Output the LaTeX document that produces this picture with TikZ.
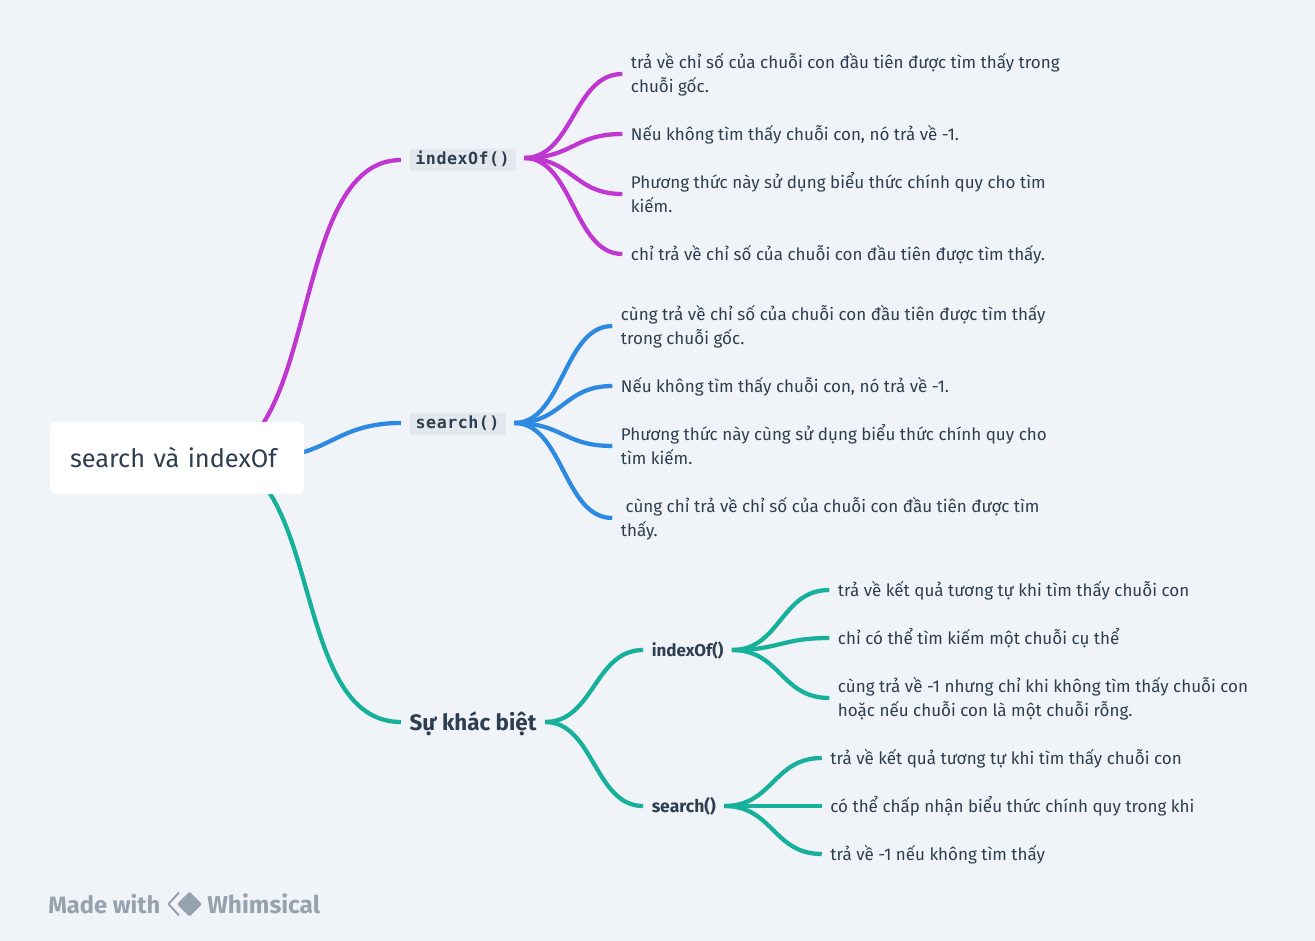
\documentclass[tikz,border=0pt]{standalone}
\usepackage{fontspec}
\setmainfont{Fira Sans}
\newfontfamily\chipfont[LetterSpace=3]{DejaVu Sans Mono Bold}
\usetikzlibrary{positioning,backgrounds}
\definecolor{pagebg}{HTML}{F0F4F8}
\definecolor{ink}{HTML}{2D3E50}
\definecolor{chipbg}{HTML}{E2E8EE}
\definecolor{stamp}{HTML}{94A3AE}
\definecolor{violet}{HTML}{BF36D0}
\definecolor{azure}{HTML}{2E8AE0}
\definecolor{jade}{HTML}{17B09B}
\newcommand\tallline{\rule{0pt}{14.5pt}}
\tikzset{
  leaf/.style={text=ink,font=\fontsize{12.75}{18}\selectfont,align=left,inner sep=0pt,outer sep=6.5pt,
    execute at begin node={\rule{0pt}{15pt}},execute at end node={\rule[-5.4pt]{0pt}{0pt}}},
  chip/.style={text=ink,font=\chipfont\fontsize{12.5}{18}\selectfont,fill=chipbg,rounded corners=1.5pt,inner sep=0pt,
    text height=9pt,text depth=2.5pt,minimum height=16.5pt,outer sep=6.5pt},
  boldleaf/.style={text=ink,font=\bfseries\fontsize{12.75}{18}\selectfont,inner sep=0pt,outer sep=6.5pt,
    text height=10pt,text depth=0pt},
  link/.style={line width=3.2pt,out=0,in=180,distance=36.5pt},
}
\begin{document}
\begin{tikzpicture}[x=0.75pt,y=-0.75pt]
\useasboundingbox (0,0) rectangle (1315,941);
\node(root) [fill=white,rounded corners=4.5pt,text width=160.5pt,text height=15pt,text depth=0pt,minimum height=54pt,inner xsep=15pt,inner ysep=0pt,text=ink,
  font=\fontsize{19}{24}\selectfont] at (177,458) {search và indexOf};
\coordinate(hub) at (208,458);
\coordinate(bluehub) at (262,458);
\coordinate(jadehub) at (212,458);

\node(indexOf) [chip,minimum width=79.5pt,right=72.5pt of root,yshift=223.5pt] {indexOf()};
\node(search)  [chip,minimum width=72pt,right=72.5pt of root,yshift=25.5pt] {search()};
\node(diff)    [boldleaf,font=\bfseries\fontsize{16.8}{18}\selectfont,text height=12pt,right=72.5pt of root,yshift=-198pt] {Sự khác biệt};

\node(ia) [leaf,right=73.5pt of indexOf,yshift=64.5pt] {\tallline trả về chỉ số của chuỗi con đầu tiên được tìm thấy trong\\chuỗi gốc.};
\node(ib) [leaf,right=73.5pt of indexOf,yshift=19.5pt] {Nếu không tìm thấy chuỗi con, nó trả về -1.};
\node(ic) [leaf,right=73.5pt of indexOf,yshift=-25.5pt] {\tallline Phương thức này sử dụng biểu thức chính quy cho tìm\\kiếm.};
\node(id) [leaf,right=73.5pt of indexOf,yshift=-70.5pt] {chỉ trả về chỉ số của chuỗi con đầu tiên được tìm thấy.};

\node(sa) [leaf,right=73.5pt of search,yshift=73.5pt] {\tallline cùng trả về chỉ số của chuỗi con đầu tiên được tìm thấy\\trong chuỗi gốc.};
\node(sb) [leaf,right=73.5pt of search,yshift=28.5pt] {Nếu không tìm thấy chuỗi con, nó trả về -1.};
\node(sc) [leaf,right=73.5pt of search,yshift=-16.5pt] {\tallline Phương thức này cùng sử dụng biểu thức chính quy cho\\tìm kiếm.};
\node(sd) [leaf,right=73.5pt of search,yshift=-70.5pt] {\tallline\hspace*{3.5pt}cùng chỉ trả về chỉ số của chuỗi con đầu tiên được tìm\\thấy.};

\node(diffindex)  [boldleaf,right=73.5pt of diff,yshift=54pt] {indexOf()};
\node(diffsearch) [boldleaf,font=\bfseries\fontsize{13.15}{18}\selectfont,right=73.5pt of diff,yshift=-63pt] {search()};

\node(da) [leaf,right=73pt of diffindex,yshift=45pt] {trả về kết quả tương tự khi tìm thấy chuỗi con};
\node(db) [leaf,right=73pt of diffindex,yshift=9pt] {chỉ có thể tìm kiếm một chuỗi cụ thể};
\node(dc) [leaf,right=73pt of diffindex,yshift=-36pt] {\tallline cùng trả về -1 nhưng chỉ khi không tìm thấy chuỗi con\\hoặc nếu chuỗi con là một chuỗi rỗng.};

\node(ea) [leaf,right=73pt of diffsearch,yshift=36pt] {trả về kết quả tương tự khi tìm thấy chuỗi con};
\node(eb) [leaf,right=73pt of diffsearch] {có thể chấp nhận biểu thức chính quy trong khi};
\node(ec) [leaf,right=73pt of diffsearch,yshift=-36pt] {trả về -1 nếu không tìm thấy};

\node(madewith) [text=stamp,font=\bfseries\fontsize{17.8}{18}\selectfont,inner sep=0pt,anchor=west] at (48,904) {Made with};
\node(whimsical) [text=stamp,font=\bfseries\fontsize{18.3}{18}\selectfont,inner sep=0pt,anchor=west] at (207,904) {Whimsical};
\draw[stamp,line width=1.5pt,line join=round] (179,892.5) -- (168.5,904) -- (179,915.5);
\fill[stamp,rounded corners=1pt] (189.5,891.5) -- (202,904) -- (189.5,916.5) -- (177,904) -- cycle;

\begin{scope}[on background layer]
\fill[pagebg] (0,0) rectangle (1315,941);
\draw[link,violet,out distance=85pt,in distance=85pt] (hub) to (indexOf.west);
\draw[link,azure,out distance=50pt,in distance=50pt] (bluehub) to ([yshift=0.75pt]search.west);
\draw[link,jade,out distance=85pt,in distance=85pt] (jadehub) to (diff.west);
\foreach \leafname in {ia,ib,ic,id}
  \draw[link,violet] ([yshift=1.5pt]indexOf.east) to (\leafname.west);
\foreach \leafname in {sa,sb,sc,sd}
  \draw[link,azure] ([yshift=0.75pt]search.east) to (\leafname.west);
\draw[link,jade] (diff.east) to (diffindex.west);
\draw[link,jade] (diff.east) to (diffsearch.west);
\foreach \leafname in {da,db,dc}
  \draw[link,jade] (diffindex.east) to (\leafname.west);
\foreach \leafname in {ea,eb,ec}
  \draw[link,jade] (diffsearch.east) to (\leafname.west);
\end{scope}
\end{tikzpicture}
\end{document}
